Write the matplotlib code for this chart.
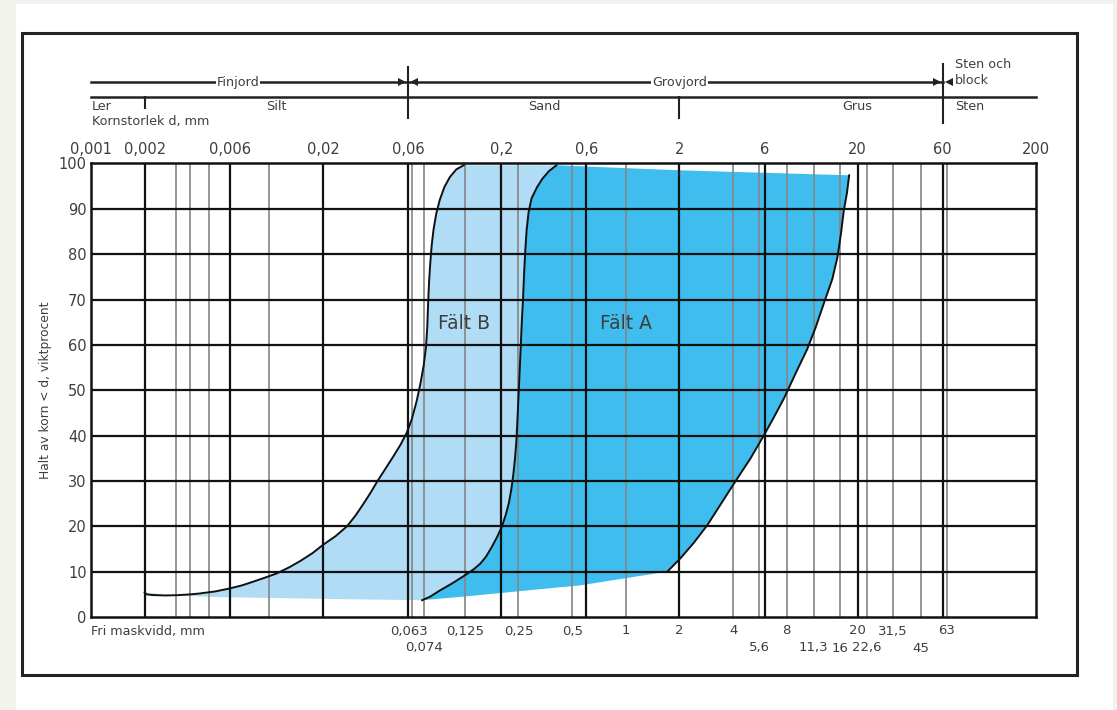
import matplotlib.pyplot as plt
import matplotlib.transforms as mtransforms
from matplotlib.patches import Rectangle

plt.rcParams['font.family'] = ['DejaVu Sans']

# Kornfördelningskurvor (kornstorlek mm, viktprocent)
b_left_d = [0.00200, 0.00205, 0.0022, 0.0026, 0.0030, 0.0035, 0.0040, 0.0050, 0.0060,
            0.0070, 0.0080, 0.0095, 0.0110, 0.0130, 0.0150, 0.0175, 0.0200, 0.0235,
            0.0273, 0.0305, 0.0338, 0.0370, 0.0402, 0.0450, 0.0500, 0.0545, 0.0590,
            0.0630, 0.0671, 0.0705, 0.0735, 0.0757, 0.0770, 0.0778, 0.0788, 0.0800,
            0.0815, 0.0835, 0.0865, 0.0905, 0.0960, 0.1030, 0.1120, 0.1230]
b_left_p = [5.4, 5.0, 4.85, 4.75, 4.8, 4.95, 5.15, 5.65, 6.3,
            6.95, 7.7, 8.7, 9.6, 11.0, 12.4, 14.1, 15.9, 17.8,
            20.0, 22.4, 25.0, 27.4, 29.8, 32.8, 35.6, 38.0, 40.6,
            43.6, 47.6, 51.5, 55.5, 59.5, 64.0, 69.0, 74.0, 78.0,
            82.0, 85.5, 89.0, 92.0, 94.8, 97.0, 98.7, 99.6]

a_left_d = [0.072, 0.080, 0.091, 0.105, 0.123, 0.140, 0.153, 0.165, 0.178, 0.190,
            0.202, 0.212, 0.221, 0.228, 0.234, 0.239, 0.243, 0.246, 0.249, 0.252,
            0.255, 0.258, 0.261, 0.265, 0.269, 0.273, 0.278, 0.285, 0.296, 0.318,
            0.340, 0.370, 0.408]
a_left_p = [3.7, 4.5, 5.9, 7.3, 9.0, 10.5, 11.8, 13.4, 15.6, 17.7,
            20.0, 22.5, 25.2, 28.2, 31.5, 35.0, 38.5, 42.5, 47.0, 51.5,
            56.0, 60.5, 65.0, 70.0, 76.0, 80.8, 85.5, 89.3, 92.3, 94.8,
            96.6, 98.3, 99.6]

a_right_d = [17.9, 17.4, 16.7, 16.1, 15.4, 14.4, 13.0, 11.6, 10.4, 9.16,
             7.71, 6.70, 5.96, 5.01, 4.04, 3.40, 2.86, 2.40, 2.03, 1.71]
a_right_p = [97.4, 93.5, 89.6, 84.5, 79.4, 74.5, 69.5, 63.8, 59.0, 54.5,
             48.2, 43.7, 40.1, 35.0, 29.4, 24.8, 20.2, 16.3, 13.0, 10.0]

# fältens kanter utan kontur
a_top_d = [0.408, 2.0, 17.9]
a_top_p = [99.6, 98.5, 97.4]
a_bottom_d = [1.71, 0.56, 0.123, 0.072]
a_bottom_p = [10.0, 7.0, 4.5, 3.7]
b_top_d = [0.123, 0.408]
b_top_p = [99.6, 99.6]
b_bottom_d = [0.072, 0.030, 0.010, 0.005, 0.003]
b_bottom_p = [3.7, 3.9, 4.2, 4.4, 4.7]

# rutnät
major_lines = [0.002, 0.006, 0.02, 0.06, 0.2, 0.6, 2, 6, 20, 60]
minor_lines = [0.003, 0.0036, 0.0046, 0.01, 0.063, 0.074, 0.125, 0.25, 0.5, 1,
               4, 5.6, 8, 11.3, 16, 22.6, 31.5, 45, 63]
top_ticks = [0.001, 0.002, 0.006, 0.02, 0.06, 0.2, 0.6, 2, 6, 20, 60, 200]
top_labels = ['0,001', '0,002', '0,006', '0,02', '0,06', '0,2', '0,6', '2', '6', '20', '60', '200']
sieve_row1 = [0.061, 0.125, 0.25, 0.5, 1, 2, 4, 8, 20, 31.5, 63]
sieve_row1_lab = ['0,063', '0,125', '0,25', '0,5', '1', '2', '4', '8', '20', '31,5', '63']
sieve_row2 = [0.074, 5.6, 11.3, 16, 22.6, 45]
sieve_row2_lab = ['0,074', '5,6', '11,3', '16', '22,6', '45']

txt = '#3e3e3e'
light_blue = '#b0dcf5'
dark_blue = '#3ebdee'

fig = plt.figure(figsize=(11.17, 7.10), dpi=100, facecolor='#f2f2ec')

# vit bakgrund och ram
fig.add_artist(Rectangle((16 / 1117, 0), 1097 / 1117, 1 - 4 / 710,
                         transform=fig.transFigure, facecolor='white',
                         edgecolor='none', zorder=-2))
fig.add_artist(Rectangle((22 / 1117, 1 - 675 / 710), 1055 / 1117, 642 / 710,
                         transform=fig.transFigure, facecolor='none',
                         edgecolor='#222222', lw=2.2, zorder=-1))

ax = fig.add_axes([91 / 1117, 1 - 617 / 710, 945 / 1117, 453.5 / 710])
ax.set_xscale('log')
ax.set_xlim(0.001, 200)
ax.set_ylim(0, 100)
ax.set_facecolor('white')

# fält B (ljusblått) och fält A (mörkblått)
bx = b_left_d + b_top_d + a_left_d[::-1] + b_bottom_d
by = b_left_p + b_top_p + a_left_p[::-1] + b_bottom_p
ax.fill(bx, by, color=light_blue, lw=0, zorder=1)
axx = a_left_d + a_top_d + a_right_d + a_bottom_d
ayy = a_left_p + a_top_p + a_right_p + a_bottom_p
ax.fill(axx, ayy, color=dark_blue, lw=0, zorder=1)

for d in minor_lines:
    ax.axvline(d, color='#858585', lw=1.2, zorder=2)
for d in major_lines:
    ax.axvline(d, color='#111111', lw=1.6, zorder=3)
for p in range(10, 100, 10):
    ax.axhline(p, color='#111111', lw=1.6, zorder=3)

ax.plot(b_left_d, b_left_p, color='#111111', lw=1.4, zorder=4)
ax.plot(a_left_d, a_left_p, color='#111111', lw=1.4, zorder=4)
ax.plot(a_right_d, a_right_p, color='#111111', lw=1.4, zorder=4)

for s in ax.spines.values():
    s.set_linewidth(1.8)
    s.set_color('#111111')
    s.set_zorder(5)

ax.set_xticks([])
ax.minorticks_off()
ax.set_yticks(range(0, 101, 10))
ax.tick_params(axis='y', length=0, pad=3, labelsize=10.5, labelcolor=txt)
ax.set_ylabel('Halt av korn < d, viktprocent', fontsize=8.8, color=txt)
ax.yaxis.set_label_coords(-0.041, 0.5)

ax.text(0.124, 64.8, 'Fält B', fontsize=13.5, color=txt, ha='center', va='center', zorder=6)
ax.text(1.0, 64.8, 'Fält A', fontsize=13.5, color=txt, ha='center', va='center', zorder=6)

# skalor ovanför och under diagrammet
tr = mtransforms.blended_transform_factory(ax.transData, fig.transFigure)

def fy(px):
    return 1 - px / 710

for d, lab in zip(top_ticks, top_labels):
    ax.text(d, fy(150), lab, transform=tr, ha='center', va='center',
            fontsize=10.5, color=txt, clip_on=False)
for d, lab in zip(sieve_row1, sieve_row1_lab):
    ax.text(d, fy(631), lab, transform=tr, ha='center', va='center',
            fontsize=9.5, color=txt, clip_on=False)
for d, lab in zip(sieve_row2, sieve_row2_lab):
    ax.text(d, fy(648), lab, transform=tr, ha='center', va='center',
            fontsize=9.5, color=txt, clip_on=False)
ax.text(0.001, fy(631), 'Fri maskvidd, mm', transform=tr, ha='left', va='center',
        fontsize=9.2, color=txt, clip_on=False)

# jordartsindelning
line_kw = dict(transform=tr, color='#222222', clip_on=False)
ax.plot([0.001, 60], [fy(82.3), fy(82.3)], lw=1.8, **line_kw)
ax.plot([0.001, 200], [fy(96.7), fy(96.7)], lw=1.8, **line_kw)
ax.plot([0.06, 0.06], [fy(67), fy(118)], lw=1.5, **line_kw)
ax.plot([60, 60], [fy(64), fy(123)], lw=1.5, **line_kw)
ax.plot([0.002, 0.002], [fy(96.7), fy(108)], lw=1.5, **line_kw)
ax.plot([2, 2], [fy(96.7), fy(118)], lw=1.5, **line_kw)
for d, m in [(0.0555, '>'), (0.065, '<'), (55.5, '>'), (65, '<')]:
    ax.plot([d], [fy(82.3)], marker=m, ms=6, mew=0, linestyle='none', **line_kw)

head_kw = dict(transform=tr, fontsize=9.2, color=txt, clip_on=False, va='center')
ax.text(0.0067, fy(82.3), 'Finjord', ha='center',
        bbox=dict(facecolor='white', edgecolor='none', pad=0.5), **head_kw)
ax.text(2.0, fy(82.3), 'Grovjord', ha='center',
        bbox=dict(facecolor='white', edgecolor='none', pad=0.5), **head_kw)
ax.text(0.00101, fy(107), 'Ler', ha='left', **head_kw)
ax.text(0.00101, fy(122), 'Kornstorlek d, mm', ha='left', **head_kw)
ax.text(0.011, fy(107), 'Silt', ha='center', **head_kw)
ax.text(0.35, fy(107), 'Sand', ha='center', **head_kw)
ax.text(20, fy(107), 'Grus', ha='center', **head_kw)
ax.text(70, fy(107), 'Sten', ha='left', **head_kw)
ax.text(70, fy(65), 'Sten och', ha='left', **head_kw)
ax.text(70, fy(80), 'block', ha='left', **head_kw)

fig.savefig('out.png', dpi=100, facecolor=fig.get_facecolor())
